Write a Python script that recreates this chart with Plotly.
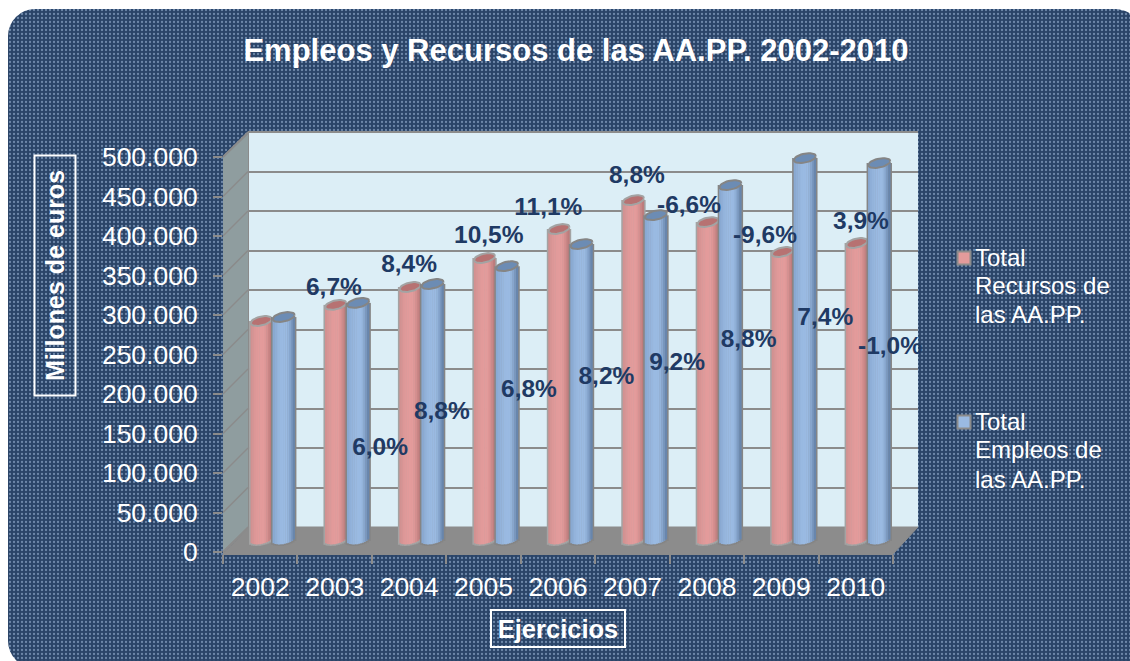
import math
import plotly.graph_objects as go

years = ["2002", "2003", "2004", "2005", "2006", "2007", "2008", "2009", "2010"]
recursos = [276600, 297000, 319600, 356300, 393000, 429600, 401800, 363900, 375300]
empleos = [281600, 299500, 323400, 346000, 374000, 410600, 448600, 482800, 476500]
y_ticks = [0, 50000, 100000, 150000, 200000, 250000, 300000, 350000, 400000, 450000, 500000]
y_tick_text = ["0", "50.000", "100.000", "150.000", "200.000", "250.000", "300.000", "350.000", "400.000", "450.000", "500.000"]

recursos_labels = ["6,7%", "8,4%", "10,5%", "11,1%", "8,8%", "-6,6%", "-9,6%", "3,9%"]
recursos_label_x = [1.49, 2.50, 3.57, 4.37, 5.56, 6.26, 7.28, 8.57]
recursos_label_val = [332500, 362500, 399000, 434500, 474500, 436500, 398500, 416500]
empleos_labels = ["6,0%", "8,8%", "6,8%", "8,2%", "9,2%", "8,8%", "7,4%", "-1,0%"]
empleos_label_x = [2.11, 2.94, 4.11, 5.15, 6.10, 7.06, 8.09, 8.96]
empleos_label_val = [130000, 175500, 203500, 220500, 238500, 267500, 295500, 258500]

legend_recursos = ["Total", "Recursos de", "las AA.PP."]
legend_empleos = ["Total", "Empleos de", "las AA.PP."]

W, H = 1130, 661
FL, FR, FT, FB = 223, 893, 157, 552   # front plane, pixels
CAT_PX = (FR - FL) / len(years)
PX_VAL = 500000 / (FB - FT)
PAD = 20  # room below zero for the rounded cylinder ends, px
GRAY = "#8b8b8b"
NAVY = "#1f3a64"
FONT = "Liberation Sans"
RED = "#e39b9b"
BLUE = "#9abae2"


def xdom(left, right):
    return [left / W, right / W]


def ydom(top, bottom):
    return [1 - bottom / H, 1 - top / H]


def mix(c1, c2, t):
    a = [int(c1[i:i + 2], 16) for i in (1, 3, 5)]
    b = [int(c2[i:i + 2], 16) for i in (1, 3, 5)]
    return "#%02x%02x%02x" % tuple(round(p + (q - p) * t) for p, q in zip(a, b))


def shade(u, left, mid, right):
    if u < -0.1:
        return mix(mid, left, ((-u - 0.1) / 0.9) ** 1.6)
    if u > 0.25:
        return mix(mid, right, ((u - 0.25) / 0.75) ** 1.4)
    return mid


fig = go.Figure()

# ---- canvas subplot: pixel coordinates for the page decoration
canvas = dict(xaxis="x", yaxis="y", showlegend=False, hoverinfo="skip")
fig.add_trace(go.Bar(
    orientation="h", y=[(9 + 668) / 2], width=[659], base=[1200], x=[8 - 1200],
    marker=dict(color="#2a4468", cornerradius=27, line=dict(width=0),
                pattern=dict(shape=".", size=4, solidity=0.25, fgcolor="#6e88aa", bgcolor="#2a4468", fillmode="replace")),
    **canvas))
arc = [(1142 - 27 + 27 * math.sin(a * math.pi / 24), 36 - 27 * math.cos(a * math.pi / 24)) for a in range(13)]
fig.add_trace(go.Scatter(x=[1115] + [p[0] for p in arc] + [1142, 1115], y=[0] + [p[1] for p in arc] + [0, 0],
                         mode="lines", fill="toself", fillcolor="white", line=dict(width=0), **canvas))
DEPTH = 25
fig.add_trace(go.Scatter(x=[FL, FL + DEPTH + 1, FL + DEPTH + 1, FL], y=[FT, FT - DEPTH, FB - DEPTH, FB],
                         mode="lines", fill="toself", fillcolor="#8f9d9f", line=dict(color=GRAY, width=2), **canvas))
fig.add_trace(go.Scatter(x=[FL + DEPTH + 1, FR + DEPTH, FR + DEPTH, FL + DEPTH + 1], y=[FT - DEPTH, FT - DEPTH, FB - DEPTH, FB - DEPTH],
                         mode="lines", fill="toself", fillcolor="#dceef6", line=dict(width=0), **canvas))
fig.add_trace(go.Scatter(x=[FL + DEPTH, FR + DEPTH], y=[FT - DEPTH, FT - DEPTH], mode="lines",
                         line=dict(color=GRAY, width=2), **canvas))
fig.add_trace(go.Scatter(x=[FL, FL + DEPTH + 1, FR + DEPTH, FR], y=[FB + 2, FB - DEPTH, FB - DEPTH, FB + 2],
                         mode="lines", fill="toself", fillcolor="#8c8c8c", line=dict(color="#8c8c8c", width=1), **canvas))
dx, dy = [], []
for v in y_ticks:
    py = FB - v / PX_VAL
    dx += [FL, FL + DEPTH, None]
    dy += [py, py - DEPTH, None]
fig.add_trace(go.Scatter(x=dx, y=dy, mode="lines", line=dict(color=GRAY, width=1.5), **canvas))
# legend swatches
fig.add_trace(go.Scatter(x=[964, 964], y=[258, 422], mode="markers",
                         marker=dict(symbol="square", size=13, color=[RED, BLUE], line=dict(color=GRAY, width=2)), **canvas))

# ---- back plane gridlines
fig.add_trace(go.Scatter(x=[0], y=[0], mode="markers", marker=dict(opacity=0), xaxis="x2", yaxis="y2",
                         showlegend=False, hoverinfo="skip"))
# ---- front plane axes
fig.add_trace(go.Scatter(x=[0], y=[0], mode="markers", marker=dict(opacity=0), xaxis="x3", yaxis="y3",
                         showlegend=False, hoverinfo="skip"))


# ---- cylinders
def cylinder(values, center_px, half_px, left, mid, right, cap, rim, xa, ya, name):
    n = len(values)
    cx = [i + 0.5 + center_px / CAT_PX for i in range(n)]
    bands = 12
    common = dict(xaxis=xa, yaxis=ya, showlegend=False, hoverinfo="skip", name=name)
    B, C = 4.5, 2.0  # ellipse half height and tilt, px
    for k in range(bands):
        u0 = -1 + 2 * k / bands
        u1 = u0 + 2 / bands
        um = (u0 + u1) / 2
        drop = (B * math.sqrt(max(0, 1 - um * um)) - C * um + 1.5) * PX_VAL
        o = half_px + 1.5
        wid = (u1 - u0) * o / CAT_PX + 0.4 / CAT_PX
        fig.add_trace(go.Bar(x=[c + um * o / CAT_PX for c in cx], y=[v + drop for v in values],
                             base=[-drop] * n, width=[wid] * n, marker=dict(color=rim, line=dict(width=0)), **common))
    for k in range(bands):
        u0 = -1 + 2 * k / bands
        u1 = u0 + 2 / bands
        um = (u0 + u1) / 2
        drop = (B * math.sqrt(max(0, 1 - um * um)) - C * um) * PX_VAL
        wid = (u1 - u0) * half_px / CAT_PX + 0.4 / CAT_PX
        fig.add_trace(go.Bar(x=[c + um * half_px / CAT_PX for c in cx], y=[v + drop for v in values],
                             base=[-drop] * n, width=[wid] * n,
                             marker=dict(color=shade(um, left, mid, right), line=dict(width=0)), **common))
    ex, ey = [], []
    for c, v in zip(cx, values):
        for j in range(37):
            t = 2 * math.pi * j / 36
            ex.append(c + half_px * math.cos(t) / CAT_PX)
            ey.append(v + (B * math.sin(t) + C * math.cos(t)) * PX_VAL)
        ex.append(None)
        ey.append(None)
    fig.add_trace(go.Scatter(x=ex, y=ey, mode="lines", fill="toself", fillcolor=cap, line=dict(color=rim, width=2),
                             xaxis=xa, yaxis=ya, showlegend=False, hoverinfo="skip"))


cylinder(recursos, -11.5, 10.5, "#cf8f8f", RED, "#b67676", "#b77272", "#a3a3a3", "x4", "y4", "Total Recursos de las AA.PP.")
cylinder(empleos, 11, 11, "#86a6cf", BLUE, "#5f7da3", "#6c8cb4", "#858585", "x5", "y5", "Total Empleos de las AA.PP.")

# ---- percentage labels
fig.add_trace(go.Scatter(x=recursos_label_x, y=recursos_label_val, text=recursos_labels, mode="text",
                         textfont=dict(family=FONT, size=24.5, color=NAVY, weight="bold"), cliponaxis=False,
                         xaxis="x6", yaxis="y6", showlegend=False, hoverinfo="skip"))
fig.add_trace(go.Scatter(x=empleos_label_x, y=empleos_label_val, text=empleos_labels, mode="text",
                         textfont=dict(family=FONT, size=24.5, color=NAVY, weight="bold"), cliponaxis=False,
                         xaxis="x6", yaxis="y6", showlegend=False, hoverinfo="skip"))

hidden_x = dict(range=[0, len(years)], visible=False)
hidden_y = dict(range=[0, 500000], visible=False)
bar_y = dict(range=[-PAD * PX_VAL, 500000], visible=False)

legend_notes = []
for lines, tops in [(legend_recursos, [257, 285, 314]), (legend_empleos, [421, 449, 479])]:
    for line, py in zip(lines, tops):
        legend_notes.append(dict(text=line, xref="x", yref="y", x=973, y=py, xanchor="left", yanchor="middle",
                                 showarrow=False, font=dict(family=FONT, size=24, color="white")))

fig.update_layout(
    template="none",
    width=W, height=H, margin=dict(l=0, r=0, t=0, b=0), autosize=False, showlegend=False,
    paper_bgcolor="white", plot_bgcolor="rgba(0,0,0,0)", barmode="overlay", hovermode=False,
    font=dict(family=FONT, color="white"),
    title=dict(text="<b>Empleos y Recursos de las AA.PP. 2002-2010</b>", x=576 / W, xanchor="center",
               y=1 - 50 / H, yanchor="middle", font=dict(family=FONT, size=31, color="white")),
    xaxis=dict(domain=[0, 1], range=[0, W], visible=False),
    yaxis=dict(domain=[0, 1], range=[H, 0], visible=False),
    xaxis2=dict(domain=xdom(FL + DEPTH, FR + DEPTH), anchor="y2", **hidden_x),
    yaxis2=dict(domain=ydom(FT - DEPTH, FB - DEPTH), anchor="x2", range=[0, 500000], tickvals=y_ticks,
                showticklabels=False, ticks="", showgrid=True, gridcolor=GRAY, gridwidth=2,
                zeroline=False, showline=False),
    xaxis3=dict(domain=xdom(FL, FR), anchor="y3", range=[0, len(years)],
                tickmode="array", tickvals=[i + 0.5 for i in range(len(years))], ticktext=years,
                ticks="outside", ticklen=9, tickwidth=0, tickcolor="rgba(0,0,0,0)", ticklabelstandoff=0,
                tickfont=dict(family=FONT, size=26.5, color="white"), showgrid=False, zeroline=False,
                showline=True, linecolor="#8c8c8c", linewidth=3,
                minor=dict(tickmode="array", tickvals=list(range(len(years) + 1)), ticks="outside", ticklen=9,
                           tickwidth=2, tickcolor=GRAY, showgrid=False)),
    yaxis3=dict(domain=ydom(FT, FB), anchor="x3", range=[0, 500000], tickmode="array", tickvals=y_ticks,
                ticktext=y_tick_text, ticks="outside", ticklen=9, tickwidth=2, tickcolor=GRAY, ticklabelstandoff=10,
                tickfont=dict(family=FONT, size=26.5, color="white"), showgrid=False, zeroline=False,
                showline=False),
    xaxis4=dict(domain=xdom(FL + 12.5, FR + 12.5), anchor="y4", **hidden_x),
    yaxis4=dict(domain=ydom(FT - 12.5, FB - 12.5 + PAD), anchor="x4", **bar_y),
    xaxis5=dict(domain=xdom(FL + 12.5, FR + 12.5), anchor="y5", **hidden_x),
    yaxis5=dict(domain=ydom(FT - 12.5, FB - 12.5 + PAD), anchor="x5", **bar_y),
    xaxis6=dict(domain=xdom(FL, FR), anchor="y6", **hidden_x),
    yaxis6=dict(domain=ydom(FT, FB), anchor="x6", **hidden_y),
    annotations=[
        dict(text="<b>Millones de euros</b>", xref="x", yref="y", x=54.5, y=276, textangle=-90, showarrow=False,
             font=dict(family=FONT, size=25, color="white"), bordercolor="white", borderwidth=2, width=236, height=37,
             align="center", valign="middle"),
        dict(text="<b>Ejercicios</b>", xref="x", yref="y", x=558, y=628.5, showarrow=False,
             font=dict(family=FONT, size=25.5, color="white"), bordercolor="white", borderwidth=2, width=130, height=33,
             align="center", valign="middle"),
    ] + legend_notes,
)

fig.write_html("out.html", config={"displayModeBar": False},
               post_script="document.body.style.margin='0';document.body.style.overflow='hidden';")
